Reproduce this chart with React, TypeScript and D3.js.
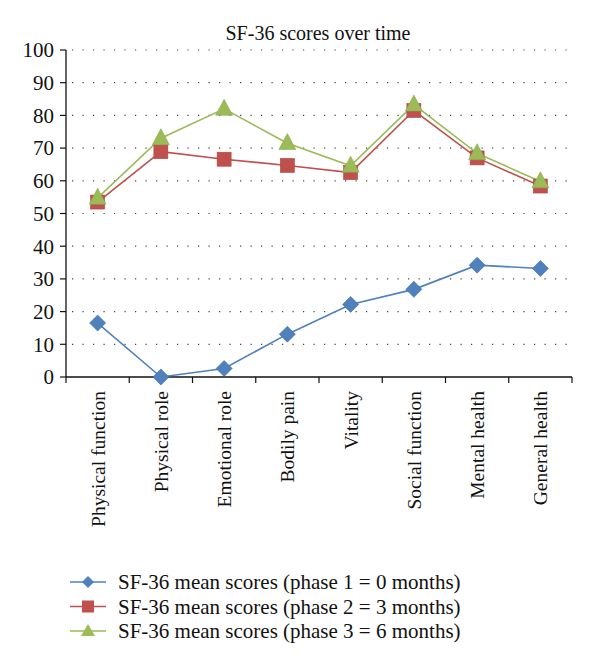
import React from "react";
import * as d3 from "d3";

const categories = [
  "Physical function",
  "Physical role",
  "Emotional role",
  "Bodily pain",
  "Vitality",
  "Social function",
  "Mental health",
  "General health",
];
const phase1 = [16.5, 0, 2.6, 13.1, 22.2, 26.8, 34.2, 33.2];
const phase2 = [53.5, 68.9, 66.6, 64.7, 62.5, 81.5, 67.0, 58.4];
const phase3 = [54.8, 73.0, 82.0, 71.5, 64.6, 83.3, 68.4, 59.8];
const seriesNames = [
  "SF-36 mean scores (phase 1 = 0 months)",
  "SF-36 mean scores (phase 2 = 3 months)",
  "SF-36 mean scores (phase 3 = 6 months)",
];
const yTicks = [0, 10, 20, 30, 40, 50, 60, 70, 80, 90, 100];
const title = "SF-36 scores over time";

const W = 600;
const H = 667;
const left = 66;
const right = 572;
const top = 50;
const bottom = 377;
const font = "'Liberation Serif', 'Times New Roman', serif";

const colors = ["#4F81BD", "#C0504D", "#9BBB59"];

function Marker({ i, x, y }: { i: number; x: number; y: number }) {
  const c = colors[i];
  if (i === 0) {
    const r = 8;
    return (
      <path
        d={`M${x},${y - r}L${x + r},${y}L${x},${y + r}L${x - r},${y}Z`}
        fill={c}
        stroke="#3a6aa3"
        strokeWidth={0.6}
      />
    );
  }
  if (i === 1) {
    const s = 7;
    return (
      <rect x={x - s} y={y - s} width={2 * s} height={2 * s} fill={c} stroke="#b04542" strokeWidth={0.6} />
    );
  }
  const h = 16;
  const w = 17;
  return (
    <path
      d={`M${x},${y - h * 0.6}L${x + w / 2},${y + h * 0.4}L${x - w / 2},${y + h * 0.4}Z`}
      fill={c}
      stroke="#8aab4a"
      strokeWidth={0.6}
    />
  );
}

export default function App() {
  const x = d3.scaleBand<string>().domain(categories).range([left, right]);
  const y = d3.scaleLinear().domain([0, 100]).range([bottom, top]);
  const series = [phase1, phase2, phase3];
  const line = d3
    .line<number>()
    .x((_, i) => (x(categories[i]) as number) + x.bandwidth() / 2)
    .y((d) => y(d));
  const tickXs = categories.map((c) => x(c) as number).concat([right]);

  return (
    <svg
      width={W}
      height={H}
      style={{ position: "absolute", left: 0, top: 0, background: "#fff" }}
      fontFamily={font}
    >
      <text x={318} y={40} textAnchor="middle" fontSize={20} fill="#111">
        {title}
      </text>
      {yTicks.map((t) => (
        <g key={t}>
          {t > 0 && (
            <line
              x1={left + 6}
              x2={right}
              y1={y(t)}
              y2={y(t)}
              stroke="#444"
              strokeWidth={1.2}
              strokeDasharray="1.2,9.3"
            />
          )}
          <line x1={left - 6} x2={left} y1={y(t)} y2={y(t)} stroke="#111" strokeWidth={1.2} />
          <text x={left - 12} y={y(t)} dy="0.35em" textAnchor="end" fontSize={21} fill="#111">
            {t}
          </text>
        </g>
      ))}
      <line x1={left} x2={left} y1={top} y2={bottom} stroke="#111" strokeWidth={1.3} />
      <line x1={left} x2={right} y1={bottom} y2={bottom} stroke="#111" strokeWidth={1.3} />
      {tickXs.map((tx, i) => (
        <line key={i} x1={tx} x2={tx} y1={bottom} y2={bottom + 6} stroke="#111" strokeWidth={1.2} />
      ))}
      {categories.map((c) => {
        const cx = (x(c) as number) + x.bandwidth() / 2;
        return (
          <text
            key={c}
            transform={`translate(${cx + 7},${bottom + 14}) rotate(-90)`}
            textAnchor="end"
            fontSize={19.5}
            fill="#111"
          >
            {c}
          </text>
        );
      })}
      {series.map((s, i) => (
        <path key={i} d={line(s) || ""} fill="none" stroke={colors[i]} strokeWidth={1.6} />
      ))}
      {series.map((s, i) =>
        s.map((v, j) => (
          <Marker key={`${i}-${j}`} i={i} x={(x(categories[j]) as number) + x.bandwidth() / 2} y={y(v)} />
        ))
      )}
      {seriesNames.map((n, i) => {
        const ly = 582 + i * 24.5;
        return (
          <g key={n}>
            <line x1={70} x2={106} y1={ly} y2={ly} stroke={colors[i]} strokeWidth={1.6} />
            {i === 0 && <path d={`M88,${ly - 6}L94,${ly}L88,${ly + 6}L82,${ly}Z`} fill={colors[0]} />}
            {i === 1 && <rect x={82} y={ly - 6} width={12} height={12} fill={colors[1]} />}
            {i === 2 && <path d={`M88,${ly - 7}L95,${ly + 5}L81,${ly + 5}Z`} fill={colors[2]} />}
            <text x={118} y={ly} dy="0.35em" fontSize={21} fill="#111">
              {n}
            </text>
          </g>
        );
      })}
    </svg>
  );
}
